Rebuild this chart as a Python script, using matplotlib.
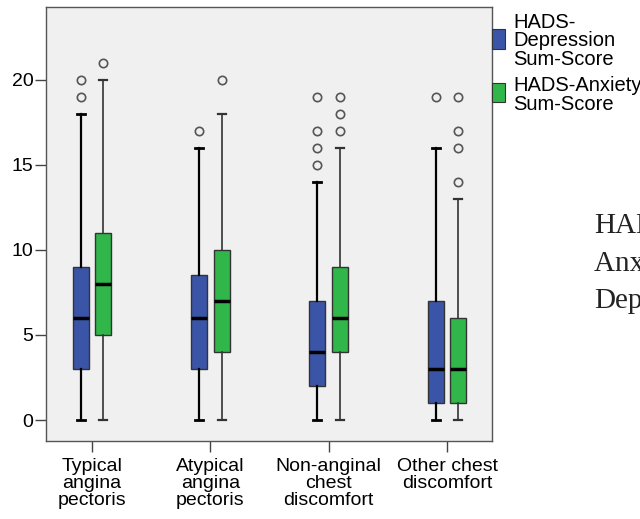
#!/usr/bin/env python3
"""Grouped boxplots of HADS sum-scores by chest pain category (SPSS style)."""

import matplotlib
matplotlib.use("Agg")
import matplotlib.pyplot as plt
from matplotlib.patches import Rectangle

plt.rcParams['font.family'] = ['Liberation Sans', 'DejaVu Sans']

categories = ['Typical\nangina\npectoris', 'Atypical\nangina\npectoris',
              'Non-anginal\nchest\ndiscomfort', 'Other chest\ndiscomfort']
series_names = ['HADS-\nDepression\nSum-Score', 'HADS-Anxiety\nSum-Score']

# five-number summaries: whislo, q1, med, q3, whishi
dep_stats = [(0, 3, 6, 9, 18), (0, 3, 6, 8.5, 16), (0, 2, 4, 7, 14), (0, 1, 3, 7, 16)]
anx_stats = [(0, 5, 8, 11, 20), (0, 4, 7, 10, 18), (0, 4, 6, 9, 16), (0, 1, 3, 6, 13)]
dep_outliers = [[19, 20], [17], [15, 16, 17, 19], [19]]
anx_outliers = [[21], [20], [17, 18, 19], [14, 16, 17, 19]]

blue = '#3a55a8'
green = '#31b64a'
yticks = [0, 5, 10, 15, 20]


def make_stats(rows, outliers):
    out = []
    for (lo, q1, med, q3, hi), fl in zip(rows, outliers):
        out.append(dict(whislo=lo, q1=q1, med=med, q3=q3, whishi=hi, fliers=fl))
    return out


fig = plt.figure(figsize=(6.4, 5.19), dpi=100)
ax = fig.add_axes([46 / 640, 78 / 519, 446 / 640, 434 / 519])
ax.set_facecolor('#f0f0f0')

offset = 0.095
width = 0.135
for stats, color, shift, wcol, wlw in [
        (make_stats(dep_stats, dep_outliers), blue, -offset, 'black', 1.6),
        (make_stats(anx_stats, anx_outliers), green, offset, '#333333', 1.2)]:
    pos = [i + shift for i in range(len(categories))]
    ax.bxp(stats, positions=pos, widths=width, capwidths=width * 0.5,
           patch_artist=True, manage_ticks=False,
           boxprops=dict(facecolor=color, edgecolor='#333333', linewidth=1.0),
           medianprops=dict(color='black', linewidth=2.5),
           whiskerprops=dict(color=wcol, linewidth=wlw),
           capprops=dict(color=wcol, linewidth=wlw + 0.4),
           flierprops=dict(marker='o', markersize=6, markerfacecolor='none',
                           markeredgecolor='#555555', markeredgewidth=1.2))

ax.set_xlim(-0.389, 3.38)
ax.set_ylim(-1.235, 24.29)
ax.set_xticks(range(len(categories)))
ax.set_xticklabels(categories, fontsize=14, linespacing=1.0)
ax.set_yticks(yticks)
ax.set_yticklabels([str(t) for t in yticks], fontsize=14)
ax.tick_params(axis='x', length=8, width=1, color='#444444', pad=4.5)
ax.tick_params(axis='y', length=8, width=1, color='#444444', pad=1)
for sp in ax.spines.values():
    sp.set_color('#555555')
    sp.set_linewidth(1.0)

# legend in the SPSS manner, patches touching the frame
H = 519.0
for color, (y0, y1), label, ty in [(blue, (29, 49), series_names[0], 41),
                                   (green, (83, 102), series_names[1], 95)]:
    fig.patches.append(Rectangle((492 / 640, (H - y1) / H), 13 / 640, (y1 - y0) / H,
                                 transform=fig.transFigure, facecolor=color,
                                 edgecolor='#333333', linewidth=0.8))
    fig.text(513 / 640, (H - ty) / H, label, fontsize=14.5, va='center',
             ha='left', linespacing=0.98)

# cropped text from the surrounding page (cut at the right edge as in the source)
for txt, base in [('HADS-', 233), ('Anxiety and', 271), ('Depression', 308)]:
    fig.text(594 / 640, (H - base) / H, txt, fontsize=21, family='Liberation Serif',
             va='baseline', ha='left', color='#222222')

fig.savefig('out.png', dpi=100)
